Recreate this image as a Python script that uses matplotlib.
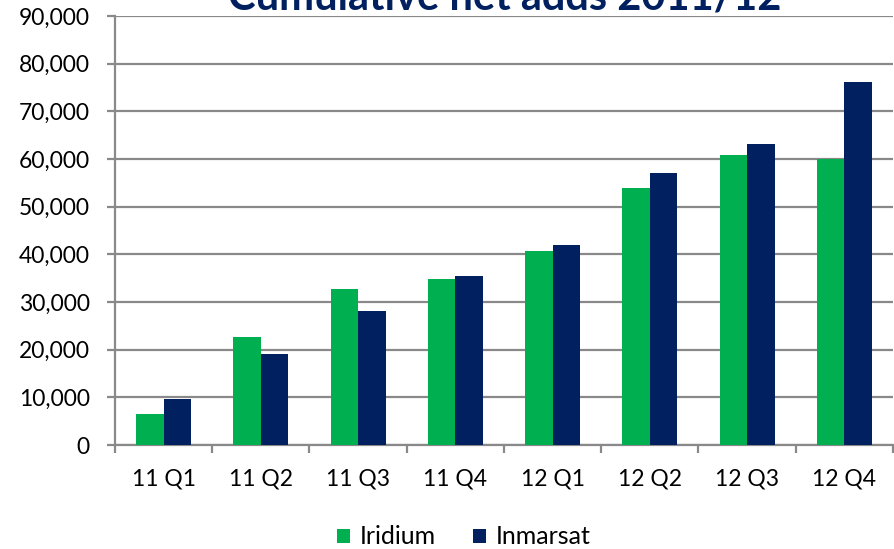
import numpy as np
import matplotlib.pyplot as plt

plt.rcParams['font.family'] = ['Lato', 'DejaVu Sans']

quarters = ['11 Q1', '11 Q2', '11 Q3', '11 Q4', '12 Q1', '12 Q2', '12 Q3', '12 Q4']
iridium = [6400, 22700, 32800, 34800, 40800, 53900, 60800, 59900]
inmarsat = [9600, 19000, 28100, 35500, 42000, 57100, 63200, 76200]
yticks = np.arange(0, 90001, 10000)

green = '#00AF50'
navy = '#002060'
grey = '#898989'

fig = plt.figure(figsize=(8.95, 5.49), dpi=100)
ax = fig.add_axes([115 / 895, 1 - 445 / 549, 778 / 895, 429 / 549])

x = np.arange(len(quarters))
w = 0.283
ax.bar(x - w / 2, iridium, w, color=green, label='Iridium', zorder=3)
ax.bar(x + w / 2, inmarsat, w, color=navy, label='Inmarsat', zorder=3)

ax.set_xlim(-0.5, len(quarters) - 0.5)
ax.set_ylim(0, 90000)
ax.set_yticks(yticks)
ax.set_yticklabels([f'{v:,}' for v in yticks], fontsize=16.5)
ax.yaxis.grid(True, color=grey, linewidth=1.6, zorder=0)

ax.set_xticks(x)
ax.set_xticklabels(quarters, fontsize=16.5)
ax.set_xticks(np.arange(-0.5, len(quarters)), minor=True)
ax.tick_params(axis='x', which='major', length=0, pad=17)
ax.tick_params(axis='x', which='minor', length=6, width=1.6, color=grey)
ax.tick_params(axis='y', length=6, width=1.6, color=grey, pad=12)

for s in ['top', 'right']:
    ax.spines[s].set_visible(False)
for s in ['left', 'bottom']:
    ax.spines[s].set_color(grey)
    ax.spines[s].set_linewidth(1.6)

# title sits partly above the canvas, as in the source
fig.text(505 / 895, 1 - 10 / 549, 'Cumulative net adds 2011/12', ha='center',
         va='baseline', fontsize=30, fontweight='bold', color=navy)

ax.legend(loc='center', bbox_to_anchor=(464 / 895, 1 - 537 / 549),
          bbox_transform=fig.transFigure, ncol=2, frameon=False, fontsize=18,
          handlelength=0.5, handleheight=0.5, handletextpad=0.4, columnspacing=1.5,
          borderpad=0)

fig.savefig('out.png', dpi=100)
